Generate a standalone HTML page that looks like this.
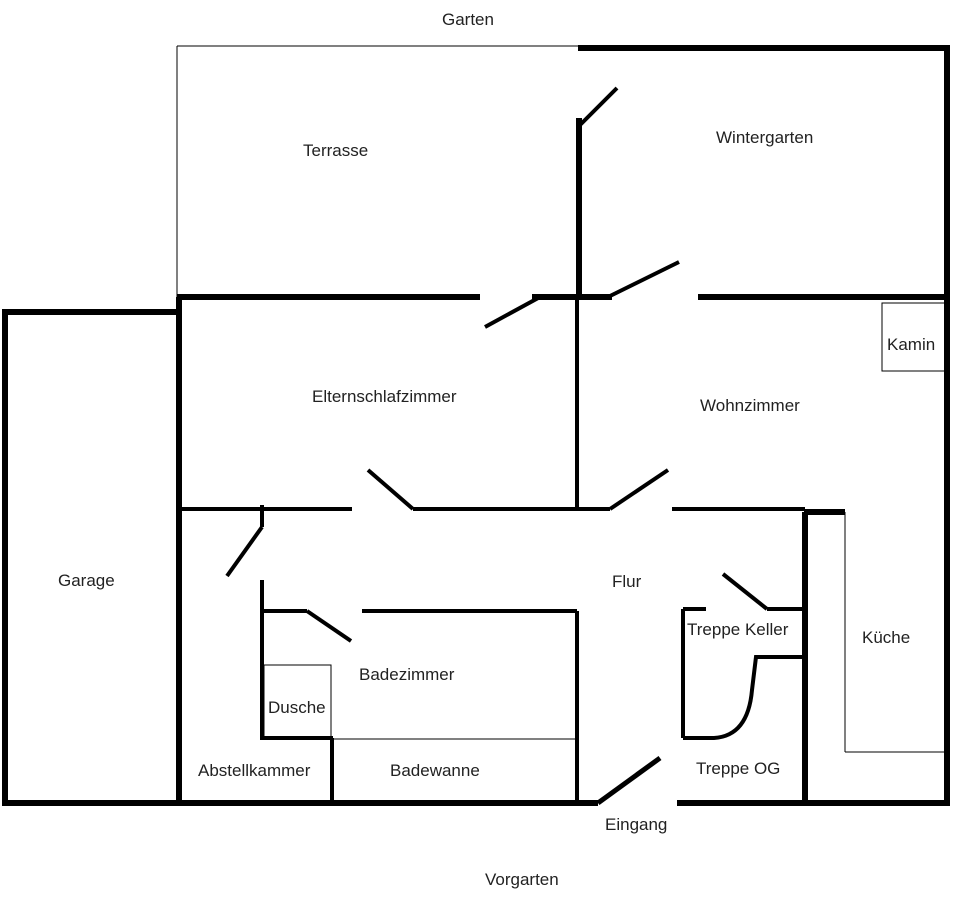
<!DOCTYPE html>
<html><head><meta charset="utf-8"><style>
html,body{margin:0;padding:0;background:#fff;width:960px;height:898px;overflow:hidden}
text{font-family:"Liberation Sans",sans-serif;font-size:17px;fill:#222}
</style></head><body>
<svg width="960" height="898" viewBox="0 0 960 898" xmlns="http://www.w3.org/2000/svg">
<g stroke="#000" fill="none" stroke-linecap="butt">
<!-- thin lines -->
<g stroke-width="1">
<line x1="177" y1="46" x2="578" y2="46"/>
<line x1="177" y1="46" x2="177" y2="297"/>
<rect x="882" y="303" width="63" height="68"/>
<line x1="845" y1="512" x2="845" y2="752"/>
<line x1="845" y1="752" x2="945" y2="752"/>
<rect x="264" y="665" width="67" height="73"/>
<line x1="333" y1="739" x2="575" y2="739"/>
</g>
<!-- thick -->
<g stroke-width="6">
<polyline points="578,48 947,48 947,803"/>
<line x1="579" y1="118" x2="579" y2="300"/>
<line x1="177" y1="297" x2="480" y2="297"/>
<line x1="532" y1="297" x2="612" y2="297"/>
<line x1="698" y1="297" x2="947" y2="297"/>
<rect x="5" y="312" width="174" height="491"/>
<line x1="179" y1="297" x2="179" y2="803"/>
<line x1="5" y1="803" x2="598" y2="803"/>
<line x1="677" y1="803" x2="950" y2="803"/>
<line x1="805" y1="512" x2="805" y2="803"/>
<line x1="804" y1="512" x2="845" y2="512"/>
</g>
<g stroke-width="4">
<line x1="580" y1="125" x2="617" y2="88"/>
<line x1="485" y1="327" x2="540" y2="297"/>
<line x1="608" y1="297" x2="679" y2="262"/>
<line x1="577" y1="297" x2="577" y2="510"/>
<line x1="179" y1="509" x2="352" y2="509"/>
<line x1="413" y1="509" x2="610" y2="509"/>
<line x1="672" y1="509" x2="805" y2="509"/>
<line x1="368" y1="470" x2="413" y2="509"/>
<line x1="610" y1="509" x2="668" y2="470"/>
<line x1="262" y1="505" x2="262" y2="527"/>
<line x1="262" y1="527" x2="227" y2="576"/>
<line x1="262" y1="580" x2="262" y2="740"/>
<line x1="262" y1="611" x2="307" y2="611"/>
<line x1="307" y1="611" x2="351" y2="641"/>
<line x1="362" y1="611" x2="577" y2="611"/>
<line x1="577" y1="611" x2="577" y2="803"/>
<line x1="262" y1="738" x2="333" y2="738"/>
<line x1="332" y1="738" x2="332" y2="803"/>
<line x1="683" y1="609" x2="706" y2="609"/>
<line x1="683" y1="609" x2="683" y2="738"/>
<path d="M683 738 L714 738 Q748 736 752 690 L756 657 L805 657"/>
<line x1="767" y1="609" x2="805" y2="609"/>
<line x1="723" y1="574" x2="767" y2="609"/>
</g>
<line x1="598" y1="803" x2="660" y2="758" stroke-width="5"/>
</g>
<text x="442" y="25">Garten</text>
<text x="303" y="156">Terrasse</text>
<text x="716" y="143">Wintergarten</text>
<text x="887" y="350">Kamin</text>
<text x="312" y="402">Elternschlafzimmer</text>
<text x="700" y="411">Wohnzimmer</text>
<text x="58" y="586">Garage</text>
<text x="612" y="587">Flur</text>
<text x="687" y="635">Treppe Keller</text>
<text x="862" y="643">Küche</text>
<text x="359" y="680">Badezimmer</text>
<text x="268" y="713">Dusche</text>
<text x="198" y="776">Abstellkammer</text>
<text x="390" y="776">Badewanne</text>
<text x="696" y="774">Treppe OG</text>
<text x="605" y="830">Eingang</text>
<text x="485" y="885">Vorgarten</text>
</svg>
</body></html>
